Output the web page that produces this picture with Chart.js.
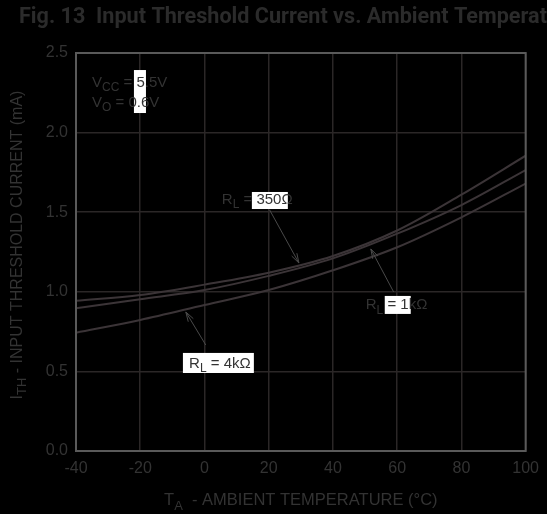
<!DOCTYPE html>
<html>
<head>
<meta charset="utf-8">
<script src="https://cdn.jsdelivr.net/npm/chart.js@4.4.0/dist/chart.umd.min.js"></script>
<style>
  html, body { margin: 0; padding: 0; background: #000; }
  #wrap { width: 547px; height: 514px; }
</style>
</head>
<body>
<div id="wrap"><canvas id="chart" width="547" height="514"></canvas></div>
<script>
// --- Data ---
const temps = [-40, -20, 0, 20, 40, 60, 80, 100];
const rl350 = [0.944, 0.98, 1.045, 1.12, 1.225, 1.385, 1.61, 1.855];
const rl1k = [0.896, 0.953, 1.011, 1.10, 1.21, 1.365, 1.545, 1.765];
const rl4k = [0.743, 0.823, 0.917, 1.011, 1.135, 1.28, 1.468, 1.68];

const xMin = -40, xMax = 100, xStep = 20;
const yMin = 0, yMax = 2.5, yStep = 0.5;

// annotation labels (data units): base text, subscript, rest
const labels = [
  { x: -35, y: 2.286, main: "V", sub: "CC", rest: " = 5.5V" },
  { x: -35, y: 2.161, main: "V", sub: "O", rest: " = 0.6V" },
  { x: 5.4, y: 1.552, main: "R", sub: "L", rest: " = 350Ω" },
  { x: 50.2, y: 0.889, main: "R", sub: "L", rest: " = 1kΩ" },
  { x: -4.8, y: 0.521, main: "R", sub: "L", rest: " = 4kΩ" }
];
// white highlight boxes behind some text: [x0, y0, x1, y1] in data units
const boxes = [
  [-21.96, 2.393, -18.22, 2.123],
  [14.76, 1.627, 25.96, 1.520],
  [56.13, 0.974, 64.22, 0.861],
  [-6.71, 0.616, 15.38, 0.490]
];
// arrows: from -> to (data units)
const arrows = [
  [20.3, 1.514, 29.4, 1.181],
  [58.9, 0.999, 51.8, 1.269],
  [0.4, 0.666, -5.8, 0.873]
];

const textColor = "#333";
const fontFam = "'Liberation Sans', Arial, sans-serif";

function drawSubText(ctx, x, y, main, sub, rest, size) {
  ctx.font = size + "px " + fontFam;
  ctx.fillText(main, x, y);
  let w = ctx.measureText(main).width;
  ctx.font = Math.round(size * 0.8) + "px " + fontFam;
  ctx.fillText(sub, x + w, y + size * 0.28);
  w += ctx.measureText(sub).width;
  ctx.font = size + "px " + fontFam;
  ctx.fillText(rest, x + w, y);
}

function subTextWidth(ctx, main, sub, rest, size) {
  ctx.font = size + "px " + fontFam;
  let w = ctx.measureText(main).width + ctx.measureText(rest).width;
  ctx.font = Math.round(size * 0.8) + "px " + fontFam;
  return w + ctx.measureText(sub).width;
}

const decorPlugin = {
  id: "decor",
  beforeDraw(chart) {
    const ctx = chart.ctx;
    ctx.save();
    ctx.fillStyle = "#000";
    ctx.fillRect(0, 0, chart.width, chart.height);
    ctx.restore();
  },
  afterDraw(chart) {
    const ctx = chart.ctx;
    const a = chart.chartArea;
    const xs = chart.scales.x, ys = chart.scales.y;
    ctx.save();

    // plot frame
    ctx.strokeStyle = "#5a5a5a";
    ctx.lineWidth = 2;
    ctx.strokeRect(a.left, a.top, a.right - a.left, a.bottom - a.top);

    // title (cut off at the right, as in the figure)
    ctx.fillStyle = "#2b2b2b";
    ctx.font = "bold 21.6px Roboto, " + fontFam;
    ctx.textBaseline = "alphabetic";
    ctx.textAlign = "left";
    ctx.fillText("Fig. 13  Input Threshold Current vs. Ambient Temperat", 19, 23);

    // white boxes
    ctx.fillStyle = "#fff";
    boxes.forEach(b => {
      const x0 = xs.getPixelForValue(b[0]), x1 = xs.getPixelForValue(b[2]);
      const y0 = ys.getPixelForValue(b[1]), y1 = ys.getPixelForValue(b[3]);
      ctx.fillRect(x0, y0, x1 - x0, y1 - y0);
    });

    // labels
    ctx.fillStyle = textColor;
    labels.forEach(l => {
      drawSubText(ctx, xs.getPixelForValue(l.x), ys.getPixelForValue(l.y), l.main, l.sub, l.rest, 15);
    });

    // arrows
    ctx.strokeStyle = "#4a4a4a";
    ctx.lineWidth = 1;
    arrows.forEach(ar => {
      const x0 = xs.getPixelForValue(ar[0]), y0 = ys.getPixelForValue(ar[1]);
      const x1 = xs.getPixelForValue(ar[2]), y1 = ys.getPixelForValue(ar[3]);
      const ang = Math.atan2(y1 - y0, x1 - x0);
      ctx.beginPath();
      ctx.moveTo(x0, y0);
      ctx.lineTo(x1, y1);
      ctx.moveTo(x1 - 10 * Math.cos(ang - 0.3), y1 - 10 * Math.sin(ang - 0.3));
      ctx.lineTo(x1, y1);
      ctx.lineTo(x1 - 10 * Math.cos(ang + 0.3), y1 - 10 * Math.sin(ang + 0.3));
      ctx.stroke();
    });

    // x axis title
    ctx.fillStyle = textColor;
    const xw = subTextWidth(ctx, "T", "A", "  - AMBIENT TEMPERATURE (°C)", 16.5);
    drawSubText(ctx, (a.left + a.right) / 2 - xw / 2, 505, "T", "A", "  - AMBIENT TEMPERATURE (°C)", 16.5);

    // y axis title
    const yw = subTextWidth(ctx, "I", "TH", " - INPUT THRESHOLD CURRENT (mA)", 16);
    ctx.translate(22, 245);
    ctx.rotate(-Math.PI / 2);
    drawSubText(ctx, -yw / 2, 0, "I", "TH", " - INPUT THRESHOLD CURRENT (mA)", 16);

    ctx.restore();
  }
};

function makeSet(label, data) {
  return {
    label: label,
    data: temps.map((t, i) => ({ x: t, y: data[i] })),
    borderColor: "#3b3437",
    borderWidth: 2,
    pointRadius: 0,
    fill: false,
    cubicInterpolationMode: "monotone"
  };
}

new Chart(document.getElementById("chart"), {
  type: "line",
  data: {
    datasets: [
      makeSet("RL = 350Ω", rl350),
      makeSet("RL = 1kΩ", rl1k),
      makeSet("RL = 4kΩ", rl4k)
    ]
  },
  options: {
    responsive: false,
    animation: false,
    layout: { padding: { left: 0, right: 21, top: 53, bottom: 0 } },
    plugins: { legend: { display: false }, tooltip: { enabled: false } },
    scales: {
      x: {
        type: "linear",
        min: xMin, max: xMax,
        ticks: { stepSize: xStep, color: textColor, font: { size: 16, family: fontFam }, padding: 8 },
        grid: { color: "#2b2727", lineWidth: 1.5, tickLength: 0 },
        border: { display: false },
        afterFit(s) { s.height = 63; }
      },
      y: {
        min: yMin, max: yMax,
        ticks: {
          stepSize: yStep, color: textColor, font: { size: 16, family: fontFam }, padding: 8,
          callback: v => v.toFixed(1)
        },
        grid: { color: "#2b2727", lineWidth: 1.5, tickLength: 0 },
        border: { display: false },
        afterFit(s) { s.width = 76; }
      }
    }
  },
  plugins: [decorPlugin]
});
</script>
</body>
</html>
